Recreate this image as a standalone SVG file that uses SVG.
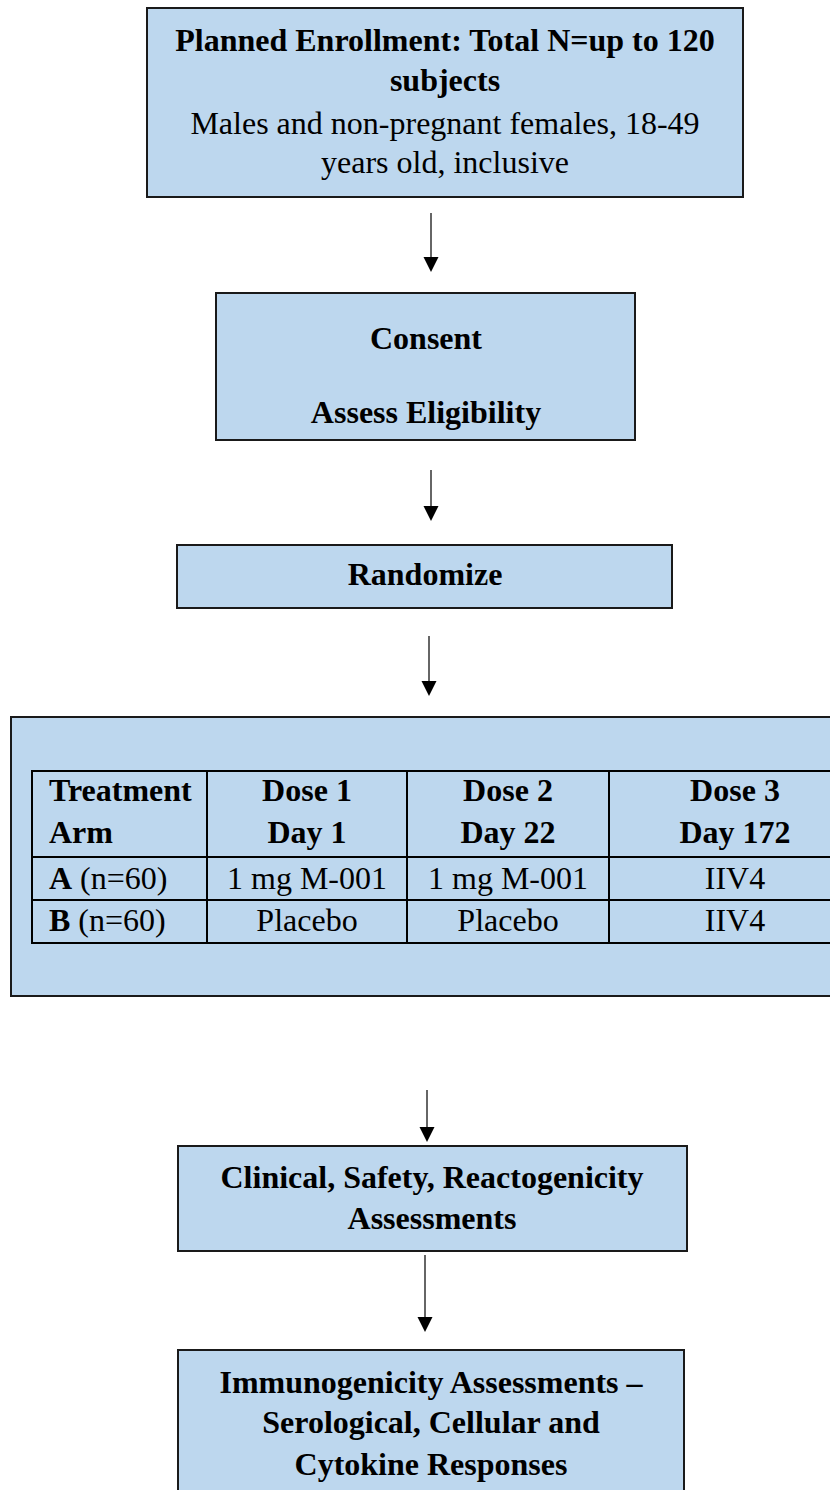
<svg xmlns="http://www.w3.org/2000/svg" width="830" height="1490" viewBox="0 0 830 1490">
<style>
.box{fill:#BDD7EE;stroke:#1a1a1a;stroke-width:2}
.grid{fill:none;stroke:#000;stroke-width:2}
text{font-family:"Liberation Serif","Times New Roman",serif;font-size:32px;fill:#000}
.b{font-weight:bold}
.c{text-anchor:middle}
.conn line{stroke:#333;stroke-width:1.5}
</style>
<defs>
<marker id="ah" markerWidth="10" markerHeight="10" refX="0" refY="5" orient="auto" markerUnits="userSpaceOnUse" viewBox="0 0 10 10" overflow="visible">
<path d="M0,-7.5 L15,0 L0,7.5 Z" fill="#000" transform="translate(0,5)"/>
</marker>
</defs>
<rect width="830" height="1490" fill="#fff"/>
<g id="enrollment">
<rect class="box" x="147" y="8" width="596" height="189"/>
<text class="b c" x="445" y="51">Planned Enrollment: Total N=up to 120</text>
<text class="b c" x="445" y="91">subjects</text>
<text class="c" x="445" y="134">Males and non-pregnant females, 18-49</text>
<text class="c" x="445" y="173">years old, inclusive</text>
</g>
<g id="consent">
<rect class="box" x="216" y="293" width="419" height="147"/>
<text class="b c" x="426" y="349">Consent</text>
<text class="b c" x="426" y="423">Assess Eligibility</text>
</g>
<g id="randomize">
<rect class="box" x="177" y="545" width="495" height="63"/>
<text class="b c" x="425" y="585">Randomize</text>
</g>
<g id="treatment">
<rect class="box" x="11" y="717" width="880" height="279"/>
<rect class="grid" x="32" y="771" width="829" height="172"/>
<line class="grid" x1="32" y1="857" x2="861" y2="857"/>
<line class="grid" x1="32" y1="900" x2="861" y2="900"/>
<line class="grid" x1="207" y1="771" x2="207" y2="943"/>
<line class="grid" x1="407" y1="771" x2="407" y2="943"/>
<line class="grid" x1="609" y1="771" x2="609" y2="943"/>
<text class="b" x="49" y="801">Treatment</text>
<text class="b" x="49" y="843">Arm</text>
<text class="b c" x="307" y="801">Dose 1</text>
<text class="b c" x="307" y="843">Day 1</text>
<text class="b c" x="508" y="801">Dose 2</text>
<text class="b c" x="508" y="843">Day 22</text>
<text class="b c" x="735" y="801">Dose 3</text>
<text class="b c" x="735" y="843">Day 172</text>
<text x="49" y="889"><tspan class="b">A</tspan> (n=60)</text>
<text x="49" y="931"><tspan class="b">B</tspan> (n=60)</text>
<text class="c" x="307" y="889">1 mg M-001</text>
<text class="c" x="508" y="889">1 mg M-001</text>
<text class="c" x="735" y="889">IIV4</text>
<text class="c" x="307" y="931">Placebo</text>
<text class="c" x="508" y="931">Placebo</text>
<text class="c" x="735" y="931">IIV4</text>
</g>
<g id="clinical">
<rect class="box" x="178" y="1146" width="509" height="105"/>
<text class="b c" x="432" y="1188">Clinical, Safety, Reactogenicity</text>
<text class="b c" x="432" y="1229">Assessments</text>
</g>
<g id="immunogenicity">
<rect class="box" x="178" y="1350" width="506" height="160"/>
<text class="b c" x="431" y="1393">Immunogenicity Assessments –</text>
<text class="b c" x="431" y="1433">Serological, Cellular and</text>
<text class="b c" x="431" y="1475">Cytokine Responses</text>
</g>
<g id="connectors" class="conn">
<line x1="431" y1="213" x2="431" y2="257" marker-end="url(#ah)"/>
<line x1="431" y1="470" x2="431" y2="506" marker-end="url(#ah)"/>
<line x1="429" y1="636" x2="429" y2="681" marker-end="url(#ah)"/>
<line x1="427" y1="1090" x2="427" y2="1127" marker-end="url(#ah)"/>
<line x1="425" y1="1255" x2="425" y2="1317" marker-end="url(#ah)"/>
</g>
</svg>
